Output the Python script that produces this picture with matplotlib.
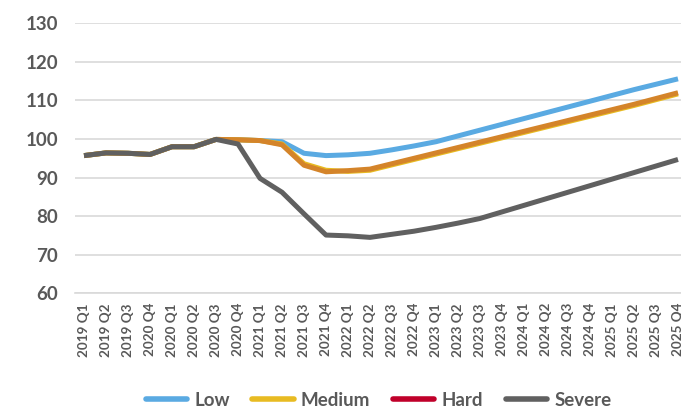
import numpy as np
import matplotlib.pyplot as plt
from matplotlib.lines import Line2D

#%% Data
quarters = ['2019 Q1', '2019 Q2', '2019 Q3', '2020 Q4', '2020 Q1', '2020 Q2', '2020 Q3',
            '2020 Q4', '2021 Q1', '2021 Q2', '2021 Q3', '2021 Q4', '2022 Q1', '2022 Q2',
            '2022 Q3', '2022 Q4', '2023 Q1', '2023 Q2', '2023 Q3', '2023 Q4', '2024 Q1',
            '2024 Q2', '2024 Q3', '2024 Q4', '2025 Q1', '2025 Q2', '2025 Q3', '2025 Q4']

low = [95.7, 96.4, 96.3, 96.0, 98.0, 98.0, 99.9, 99.8, 99.6, 99.3, 96.3, 95.7, 95.9, 96.3,
       97.2, 98.2, 99.3, 100.8, 102.3, 103.8, 105.3, 106.8, 108.3, 109.8, 111.3, 112.8,
       114.2, 115.6]
medium = [95.7, 96.4, 96.3, 96.0, 98.0, 98.0, 99.9, 99.8, 99.6, 98.7, 93.6, 91.9, 91.6, 91.9,
          93.3, 94.7, 96.1, 97.5, 98.9, 100.3, 101.7, 103.1, 104.5, 105.9, 107.3, 108.7,
          110.2, 111.7]
hard = [95.7, 96.4, 96.3, 96.0, 98.0, 98.0, 99.9, 99.8, 99.6, 98.5, 93.2, 91.5, 91.8, 92.2,
        93.6, 95.0, 96.4, 97.8, 99.2, 100.6, 102.0, 103.4, 104.8, 106.2, 107.6, 109.0,
        110.5, 112.0]
severe = [95.7, 96.4, 96.3, 96.0, 98.0, 98.0, 99.9, 98.7, 89.8, 86.2, 80.6, 75.1, 74.9, 74.5,
          75.3, 76.1, 77.1, 78.2, 79.4, 81.1, 82.8, 84.5, 86.2, 87.9, 89.6, 91.3, 93.0, 94.7]

names = ['Low', 'Medium', 'Hard', 'Severe']
line_colors = ['#5AAAE2', '#E8BB22', '#D4842A', '#606060']
legend_colors = ['#5AAAE2', '#E8BB22', '#C0002A', '#606060']

#%% Plot
plt.rcParams['font.family'] = ['Lato', 'DejaVu Sans']
txt = '#595959'

fig = plt.figure(figsize=(6.81, 4.09), dpi=100)
ax = fig.add_axes([75/681, 115.7/409, 614/681, 270/409])

x = np.arange(len(quarters))
for vals, c in zip([low, medium, hard, severe], line_colors):
    ax.plot(x, vals, color=c, lw=3.6, solid_joinstyle='round', solid_capstyle='butt', zorder=3)

ax.set_xlim(-0.41, 27.5)
ax.set_ylim(60, 130)
ax.set_yticks(np.arange(60, 131, 10))
ax.set_xticks(x)
ax.set_xticklabels(quarters, rotation=90, fontsize=9.7, fontweight='bold', color=txt)
ax.tick_params(axis='y', length=0, pad=12, labelsize=13.5, labelcolor=txt)
ax.tick_params(axis='x', length=0, pad=7)
for lab in ax.get_yticklabels():
    lab.set_fontweight('bold')

ax.grid(axis='y', color='#D9D9D9', lw=1.2, zorder=0)
for s in ['top', 'right', 'left']:
    ax.spines[s].set_visible(False)
ax.spines['bottom'].set_color('#D9D9D9')
ax.spines['bottom'].set_linewidth(1.2)

handles = [Line2D([], [], color=c, lw=4, solid_capstyle='round') for c in legend_colors]
leg = fig.legend(handles, names, loc='center', bbox_to_anchor=(378.5/681, 1 - 400/409),
                 ncol=4, frameon=False, handlelength=2.2, handletextpad=0.4,
                 columnspacing=1.2, prop={'size': 13.5, 'weight': 'bold'})
for t in leg.get_texts():
    t.set_color(txt)

fig.savefig('out.png', dpi=100)
